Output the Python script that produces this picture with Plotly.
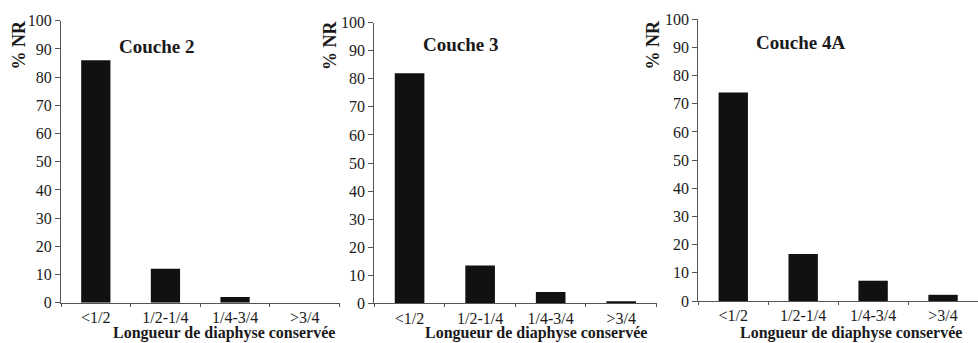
import plotly.graph_objects as go

categories = ["<1/2", "1/2-1/4", "1/4-3/4", ">3/4"]
couche2 = [86, 12, 2, 0]
couche3 = [82, 13.5, 4, 0.7]
couche4a = [74, 16.7, 7.2, 2.2]
panel_titles = ["Couche 2", "Couche 3", "Couche 4A"]
y_title = "% NR"
x_title = "Longueur de diaphyse conservée"
y_ticks = [0, 10, 20, 30, 40, 50, 60, 70, 80, 90, 100]

W, H = 978, 343
FONT = "Liberation Serif"
series = [couche2, couche3, couche4a]

# pixel layout for each panel: (x_left, x_right, y_zero_px, y_top_px)
panels = [
    (61, 339.5, 302.7, 20.7),
    (374.3, 656.5, 303.3, 22.7),
    (698.3, 979, 301, 19.3),
]
title_pos = [(156.5, 47), (460, 45), (800, 42)]
ytitle_pos = [(18.5, 45), (330, 46), (652.5, 45)]
xtitle_pos = [(224, 343), (536, 343), (851, 343)]

fig = go.Figure()
layout = dict(
    template="none",
    width=W, height=H,
    margin=dict(l=0, r=0, t=0, b=0, pad=0),
    paper_bgcolor="white", plot_bgcolor="white",
    showlegend=False,
    bargap=0.58,
    font=dict(family=FONT, color="#1a1a1a", size=16),
)
annotations = []
for i, (vals, (xl, xr, y0, y1)) in enumerate(zip(series, panels)):
    n = "" if i == 0 else str(i + 1)
    fig.add_trace(go.Bar(
        x=categories, y=vals,
        xaxis="x" + n, yaxis="y" + n,
        marker=dict(color="#111111", line=dict(width=0)),
    ))
    layout["xaxis" + n] = dict(
        domain=[xl / W, min(xr / W, 1.0)],
        anchor="y" + n,
        automargin=False,
        showline=True, linecolor="#555555", linewidth=1.3,
        ticks="outside", ticklen=3, tickcolor="#555555", tickwidth=1.3,
        tickson="boundaries",
        showgrid=False, zeroline=False,
        tickfont=dict(family=FONT, size=16, color="#1a1a1a"),
        fixedrange=True,
    )
    layout["yaxis" + n] = dict(
        domain=[(H - y0) / H, (H - y1) / H],
        anchor="x" + n,
        automargin=False,
        range=[0, 100],
        tickvals=y_ticks,
        showline=True, linecolor="#555555", linewidth=1.3,
        ticks="outside", ticklen=5, tickcolor="#555555", tickwidth=1.3,
        showgrid=False, zeroline=False,
        tickfont=dict(family=FONT, size=16, color="#1a1a1a"),
        fixedrange=True,
    )
    tx, ty = title_pos[i]
    annotations.append(dict(
        text="<b>" + panel_titles[i] + "</b>", x=tx / W, y=1 - ty / H,
        xref="paper", yref="paper", xanchor="center", yanchor="middle",
        showarrow=False, font=dict(family=FONT, size=19, color="#1a1a1a"),
    ))
    yx, yy = ytitle_pos[i]
    annotations.append(dict(
        text="<b>" + y_title + "</b>", x=yx / W, y=1 - yy / H,
        xref="paper", yref="paper", xanchor="center", yanchor="middle",
        textangle=-90, showarrow=False,
        font=dict(family=FONT, size=18, color="#1a1a1a"),
    ))
    xx, xy = xtitle_pos[i]
    annotations.append(dict(
        text="<b>" + x_title + "</b>", x=xx / W, y=1 - xy / H,
        xref="paper", yref="paper", xanchor="center", yanchor="bottom",
        showarrow=False, borderpad=0,
        font=dict(family=FONT, size=16, color="#1a1a1a"),
    ))

layout["annotations"] = annotations
fig.update_layout(**layout)
fig.write_html(
    "out.html",
    config={"displayModeBar": False},
    post_script="document.body.style.margin='0';document.body.style.overflow='hidden';",
)
